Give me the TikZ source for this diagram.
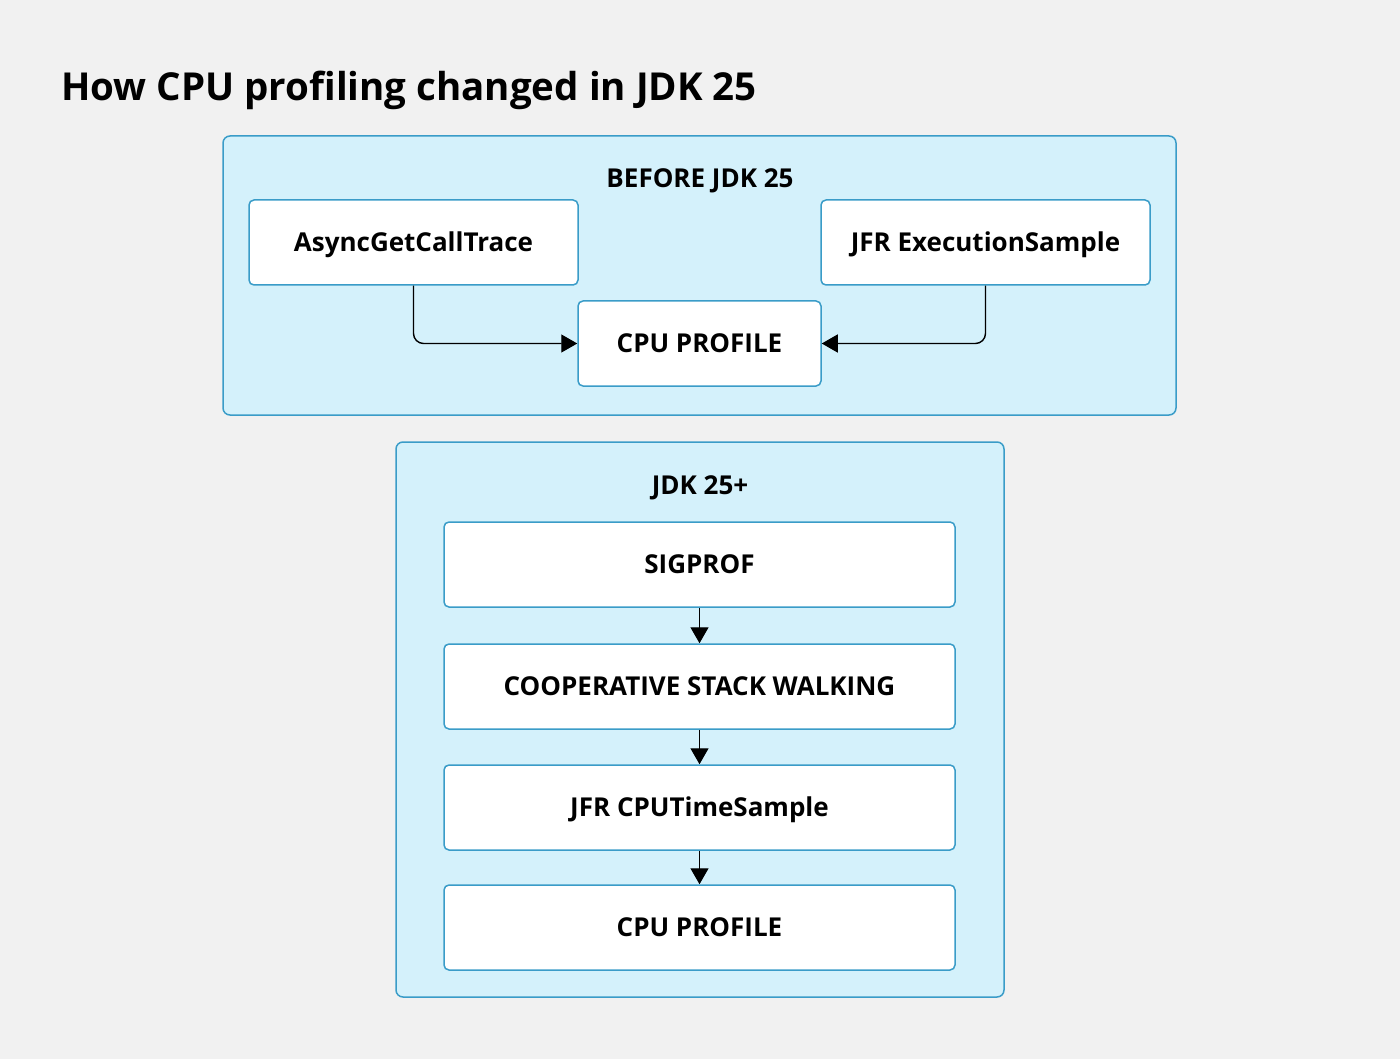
\documentclass[tikz,border=0pt]{standalone}
\usepackage{fontspec}
\setmainfont{Open Sans}
\usetikzlibrary{arrows.meta}
\definecolor{bgc}{HTML}{F1F1F1}
\definecolor{panelfill}{HTML}{D4F1FB}
\definecolor{panelline}{HTML}{3A9CC8}
\tikzset{
  panel/.style={draw=panelline, fill=panelfill, line width=1.5pt, rounded corners=7pt},
  stepbox/.style={draw=panelline, fill=white, line width=1.5pt, rounded corners=5pt, font=\bfseries\fontsize{26}{30}\selectfont, text=black, text height=18.5pt, text depth=0pt},
  paneltitle/.style={font=\bfseries\fontsize{26}{30}\selectfont, text=black, text height=18.5pt, text depth=0pt},
  conn/.style={draw=black, line width=1.4pt, -{Triangle[length=16pt,width=18pt]}, rounded corners=10pt}
}
\begin{document}
\begin{tikzpicture}[x=1pt,y=-1pt]
\fill[bgc] (0,0) rectangle (1400,1059);
\useasboundingbox (0,0) rectangle (1400,1059);
\node[anchor=west, inner sep=0pt, font=\bfseries\fontsize{38.5}{42}\selectfont, text=black] (title) at (61,90) {How CPU profiling changed in JDK 25};

% Before panel
\path[panel] (223,136) rectangle (1176,415);
\node[paneltitle] (beforelbl) at (700,178) {BEFORE JDK 25};
\node[stepbox, minimum width=329pt, minimum height=85pt] (agct) at (413.5,242.5) {AsyncGetCallTrace};
\node[stepbox, minimum width=329pt, minimum height=85pt] (jfres) at (985.5,242.5) {JFR ExecutionSample};
\node[stepbox, minimum width=243pt, minimum height=85pt] (cpu1) at (699.5,343.5) {CPU PROFILE};
\draw[conn] (agct.south) |- (cpu1.west);
\draw[conn] (jfres.south) |- (cpu1.east);

% After panel
\path[panel] (396,442) rectangle (1004,997);
\node[paneltitle] (afterlbl) at (700,485) {JDK 25+};
\node[stepbox, minimum width=511pt, minimum height=85pt] (sig) at (699.5,564.5) {SIGPROF};
\node[stepbox, minimum width=511pt, minimum height=85pt] (coop) at (699.5,686.5) {COOPERATIVE STACK WALKING};
\node[stepbox, minimum width=511pt, minimum height=85pt] (cts) at (699.5,807.5) {JFR CPUTimeSample};
\node[stepbox, minimum width=511pt, minimum height=85pt] (cpu2) at (699.5,927.5) {CPU PROFILE};
\draw[conn] (sig) -- (coop);
\draw[conn] (coop) -- (cts);
\draw[conn] (cts) -- (cpu2);
\end{tikzpicture}
\end{document}
